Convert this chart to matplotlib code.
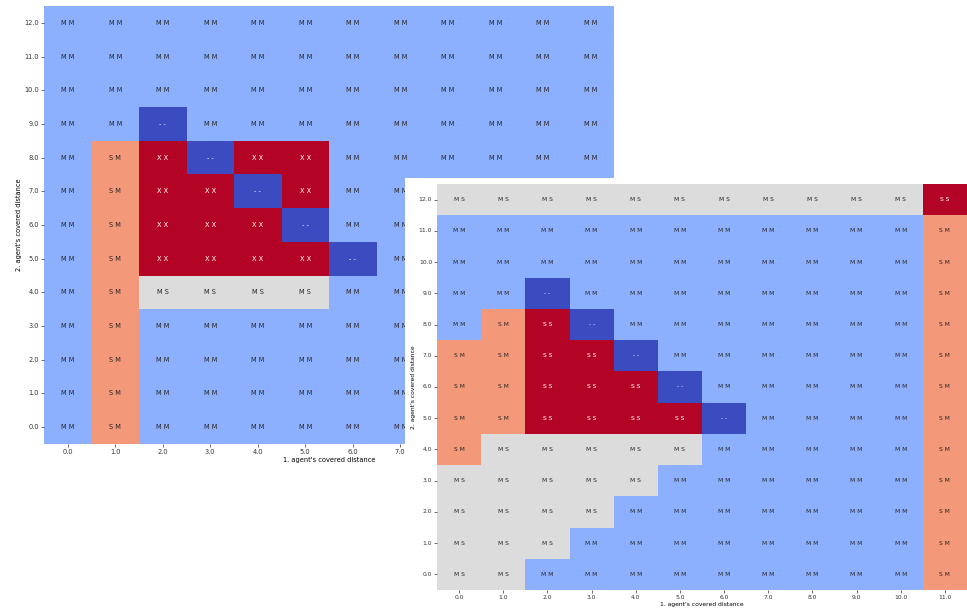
"""
Two overlapping outcome heatmaps: 1. vs 2. agent's covered distance.
"""
import matplotlib
matplotlib.use("Agg")
import matplotlib.pyplot as plt
from matplotlib.patches import Rectangle
import numpy as np
import pandas as pd
import seaborn as sns

# columns: 1. agent's covered distance, rows (top -> bottom): 2. agent's covered distance
DIST_1 = [0.0, 1.0, 2.0, 3.0, 4.0, 5.0, 6.0, 7.0, 8.0, 9.0, 10.0, 11.0]
DIST_2 = [12.0, 11.0, 10.0, 9.0, 8.0, 7.0, 6.0, 5.0, 4.0, 3.0, 2.0, 1.0, 0.0]

GRID_LEFT = [
    ["MM", "MM", "MM", "MM", "MM", "MM", "MM", "MM", "MM", "MM", "MM", "MM"],
    ["MM", "MM", "MM", "MM", "MM", "MM", "MM", "MM", "MM", "MM", "MM", "MM"],
    ["MM", "MM", "MM", "MM", "MM", "MM", "MM", "MM", "MM", "MM", "MM", "MM"],
    ["MM", "MM", "--", "MM", "MM", "MM", "MM", "MM", "MM", "MM", "MM", "MM"],
    ["MM", "SM", "XX", "--", "XX", "XX", "MM", "MM", "MM", "MM", "MM", "MM"],
    ["MM", "SM", "XX", "XX", "--", "XX", "MM", "MM", "MM", "MM", "MM", "MM"],
    ["MM", "SM", "XX", "XX", "XX", "--", "MM", "MM", "MM", "MM", "MM", "MM"],
    ["MM", "SM", "XX", "XX", "XX", "XX", "--", "MM", "MM", "MM", "MM", "MM"],
    ["MM", "SM", "MS", "MS", "MS", "MS", "MM", "MM", "MM", "MM", "MM", "MM"],
    ["MM", "SM", "MM", "MM", "MM", "MM", "MM", "MM", "MM", "MM", "MM", "MM"],
    ["MM", "SM", "MM", "MM", "MM", "MM", "MM", "MM", "MM", "MM", "MM", "MM"],
    ["MM", "SM", "MM", "MM", "MM", "MM", "MM", "MM", "MM", "MM", "MM", "MM"],
    ["MM", "SM", "MM", "MM", "MM", "MM", "MM", "MM", "MM", "MM", "MM", "MM"],
]

GRID_RIGHT = [
    ["MS", "MS", "MS", "MS", "MS", "MS", "MS", "MS", "MS", "MS", "MS", "SS"],
    ["MM", "MM", "MM", "MM", "MM", "MM", "MM", "MM", "MM", "MM", "MM", "SM"],
    ["MM", "MM", "MM", "MM", "MM", "MM", "MM", "MM", "MM", "MM", "MM", "SM"],
    ["MM", "MM", "--", "MM", "MM", "MM", "MM", "MM", "MM", "MM", "MM", "SM"],
    ["MM", "SM", "SS", "--", "MM", "MM", "MM", "MM", "MM", "MM", "MM", "SM"],
    ["SM", "SM", "SS", "SS", "--", "MM", "MM", "MM", "MM", "MM", "MM", "SM"],
    ["SM", "SM", "SS", "SS", "SS", "--", "MM", "MM", "MM", "MM", "MM", "SM"],
    ["SM", "SM", "SS", "SS", "SS", "SS", "--", "MM", "MM", "MM", "MM", "SM"],
    ["SM", "MS", "MS", "MS", "MS", "MS", "MM", "MM", "MM", "MM", "MM", "SM"],
    ["MS", "MS", "MS", "MS", "MS", "MM", "MM", "MM", "MM", "MM", "MM", "SM"],
    ["MS", "MS", "MS", "MS", "MM", "MM", "MM", "MM", "MM", "MM", "MM", "SM"],
    ["MS", "MS", "MS", "MM", "MM", "MM", "MM", "MM", "MM", "MM", "MM", "SM"],
    ["MS", "MS", "MM", "MM", "MM", "MM", "MM", "MM", "MM", "MM", "MM", "SM"],
]

# outcome code -> position on the coolwarm scale
CODE_VALUE = {"--": 0, "MM": 1, "MS": 2, "SM": 3, "XX": 4, "SS": 4}

W, H = 967, 611
SHEET_LEFT, SHEET_TOP = 405, 178   # where the second figure's page starts


def fig_box(left, top, right, bottom):
    # pixel box -> figure fraction [l, b, w, h]
    return [left / W, (H - bottom) / H, (right - left) / W, (bottom - top) / H]


def draw_heatmap(ax, grid, fs):
    values = np.array([[CODE_VALUE[c] for c in row] for row in grid])
    labels = np.array([[f"{c[0]} {c[1]}" for c in row] for row in grid])
    df = pd.DataFrame(values, index=DIST_2, columns=DIST_1)
    sns.heatmap(df, ax=ax, cmap="coolwarm", vmin=0, vmax=4, cbar=False,
                annot=labels, fmt="", annot_kws={"fontsize": fs},
                xticklabels=True, yticklabels=True)
    ax.set_yticklabels(ax.get_yticklabels(), rotation=0)
    ax.set_xticklabels(ax.get_xticklabels(), rotation=0)
    ax.tick_params(labelsize=fs, length=2, width=0.5, pad=1.5, colors="#333333")
    ax.set_xlabel("1. agent's covered distance", fontsize=fs, labelpad=1.5)
    ax.set_ylabel("2. agent's covered distance", fontsize=fs, labelpad=2)


def under_sheet(ax, x, y, half_w=8, half_h=5):
    px, py = ax.transData.transform((x, y))
    return px - half_w > SHEET_LEFT and (H - py) - half_h > SHEET_TOP


fig = plt.figure(figsize=(W / 100, H / 100), dpi=100)

ax1 = fig.add_axes(fig_box(44, 6, 614, 444))
ax1.set_zorder(0)
draw_heatmap(ax1, GRID_LEFT, 4.8)

# texts of the first heatmap that are fully covered by the second page
for t in ax1.texts:
    if under_sheet(ax1, *t.get_position()):
        t.set_visible(False)
for lbl in ax1.get_xticklabels():
    if lbl.get_position()[0] > 7.5:
        lbl.set_visible(False)

# white sheet of the second figure lying over the first one
fig.add_artist(Rectangle((SHEET_LEFT / W, 0), (W - SHEET_LEFT) / W,
                         (H - SHEET_TOP) / H, transform=fig.transFigure,
                         facecolor="white", edgecolor="none", zorder=1))

ax2 = fig.add_axes(fig_box(437, 184, 967, 590))
ax2.set_zorder(2)
draw_heatmap(ax2, GRID_RIGHT, 4.3)

fig.savefig("out.png", dpi=100)
plt.close(fig)
